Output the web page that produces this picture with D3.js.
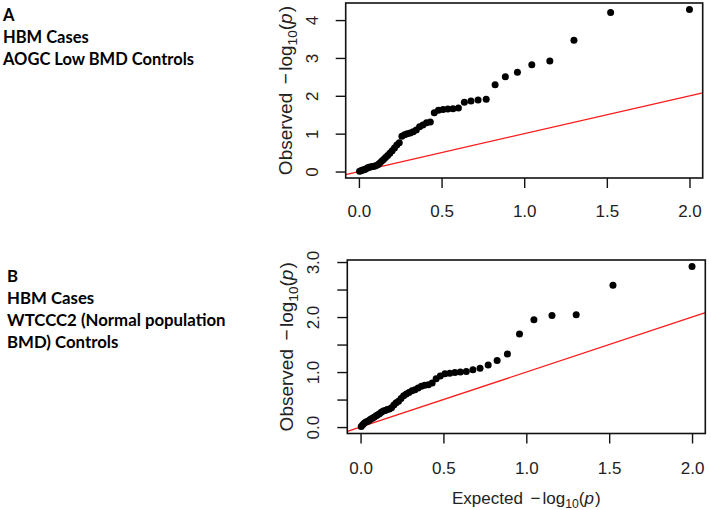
<!DOCTYPE html>
<html>
<head>
<meta charset="utf-8">
<script src="https://cdn.jsdelivr.net/npm/d3@7"></script>
<style>
  html, body { margin: 0; padding: 0; background: #fff; }
  svg { display: block; }
</style>
</head>
<body>
<svg id="chart" width="711" height="510"></svg>
<script>
// Expected -log10(p) (50 SNPs, sorted descending)
const expected = [2.000, 1.523, 1.301, 1.155, 1.046, 0.959, 0.886, 0.824, 0.770, 0.721,
  0.678, 0.638, 0.602, 0.569, 0.538, 0.509, 0.481, 0.456, 0.432, 0.409,
  0.387, 0.367, 0.347, 0.328, 0.310, 0.292, 0.276, 0.260, 0.244, 0.229,
  0.215, 0.201, 0.187, 0.174, 0.161, 0.149, 0.137, 0.125, 0.114, 0.102,
  0.092, 0.081, 0.071, 0.060, 0.051, 0.041, 0.032, 0.022, 0.013, 0.004];

// Panel A observed -log10(p)
const observedA = [4.28, 4.20, 3.47, 2.92, 2.82, 2.62, 2.50, 2.29, 1.91, 1.89,
  1.86, 1.83, 1.68, 1.66, 1.65, 1.64, 1.62, 1.55, 1.31, 1.29,
  1.23, 1.18, 1.10, 1.05, 1.02, 1.00, 0.97, 0.93, 0.76, 0.70,
  0.62, 0.55, 0.48, 0.42, 0.37, 0.32, 0.27, 0.22, 0.18, 0.15,
  0.14, 0.13, 0.12, 0.11, 0.09, 0.07, 0.05, 0.04, 0.02, 0.01];

// Panel B observed -log10(p)
const observedB = [2.92, 2.58, 2.04, 2.03, 1.95, 1.69, 1.33, 1.21, 1.13, 1.07,
  1.04, 1.01, 1.00, 0.99, 0.98, 0.97, 0.93, 0.88, 0.80, 0.77,
  0.76, 0.74, 0.71, 0.68, 0.66, 0.63, 0.60, 0.57, 0.52, 0.47,
  0.44, 0.40, 0.35, 0.33, 0.32, 0.30, 0.29, 0.27, 0.24, 0.22,
  0.20, 0.18, 0.16, 0.14, 0.12, 0.10, 0.09, 0.07, 0.04, 0.01];

const xTicks = [0, 0.5, 1, 1.5, 2];
const xTickLabels = ["0.0", "0.5", "1.0", "1.5", "2.0"];
const yTicksA = [0, 1, 2, 3, 4];
const yTickLabelsA = ["0", "1", "2", "3", "4"];
const yTicksB = [0, 0.5, 1, 1.5, 2, 2.5, 3];
const yTickLabelsB = ["0.0", "", "1.0", "", "2.0", "", "3.0"];

const captionA = ["A", "HBM Cases", "AOGC Low BMD Controls"];
const captionB = ["B", "HBM Cases", "WTCCC2 (Normal population", "BMD) Controls"];

const svg = d3.select("#chart");
const AXF = "'Liberation Sans', Arial, Helvetica, sans-serif";
const CAPF = "Lato, 'Open Sans', sans-serif";

function expressionLabel(textSel, prefix, size) {
  textSel.append("tspan").text(prefix);
  textSel.append("tspan").attr("dx", size * 0.45).text("\u2212");
  textSel.append("tspan").attr("dx", size * 0.12).text("log");
  textSel.append("tspan").attr("font-size", size * 0.72).attr("dy", size * 0.25).text("10");
  textSel.append("tspan").attr("dy", -size * 0.25).text("(");
  textSel.append("tspan").attr("font-style", "italic").text("p");
  textSel.append("tspan").attr("dx", size * 0.06).text(")");
}

function panel(cfg) {
  const g = svg.append("g");
  const x = d3.scaleLinear().domain(cfg.xDomain).range([cfg.left, cfg.right]);
  const y = d3.scaleLinear().domain(cfg.yDomain).range([cfg.bottom, cfg.top]);

  const clipId = "clip" + cfg.id;
  svg.append("clipPath").attr("id", clipId)
    .append("rect").attr("x", cfg.left).attr("y", cfg.top)
    .attr("width", cfg.right - cfg.left).attr("height", cfg.bottom - cfg.top);

  // reference line y = x
  g.append("line")
    .attr("clip-path", `url(#${clipId})`)
    .attr("x1", x(cfg.xDomain[0])).attr("y1", y(cfg.xDomain[0]))
    .attr("x2", x(cfg.xDomain[1])).attr("y2", y(cfg.xDomain[1]))
    .attr("stroke", "#ff1a1a").attr("stroke-width", 1.3);

  // points
  g.append("g").attr("clip-path", `url(#${clipId})`)
    .selectAll("circle").data(expected.map((e, i) => [e, cfg.obs[i]]))
    .join("circle")
    .attr("cx", d => x(d[0])).attr("cy", d => y(d[1]))
    .attr("r", 3.5).attr("fill", "#000");

  // box
  g.append("rect")
    .attr("x", cfg.left).attr("y", cfg.top)
    .attr("width", cfg.right - cfg.left).attr("height", cfg.bottom - cfg.top)
    .attr("fill", "none").attr("stroke", "#111").attr("stroke-width", 1.6);

  // x axis
  const xa = g.append("g").attr("transform", `translate(0,${cfg.bottom})`)
    .call(d3.axisBottom(x).tickValues(xTicks).tickSize(10)
      .tickFormat((d, i) => xTickLabels[i]));
  xa.select(".domain").remove();
  xa.selectAll(".tick line").attr("stroke", "#111").attr("stroke-width", 1.4);
  xa.selectAll(".tick text").attr("y", cfg.xLabelOffset).attr("dy", 0)
    .attr("font-family", AXF).attr("font-size", 17).attr("fill", "#222");

  // y axis
  const ya = g.append("g").attr("transform", `translate(${cfg.left},0)`)
    .call(d3.axisLeft(y).tickValues(cfg.yTicks).tickSize(10)
      .tickFormat((d, i) => cfg.yLabels[i]));
  ya.select(".domain").remove();
  ya.selectAll(".tick line").attr("stroke", "#111").attr("stroke-width", 1.4);
  ya.selectAll(".tick text")
    .attr("x", 0).attr("y", 0).attr("dy", 0)
    .attr("transform", `translate(${cfg.yLabelX - cfg.left},0) rotate(-90)`)
    .attr("text-anchor", "middle")
    .attr("font-family", AXF).attr("font-size", 17).attr("fill", "#222");

  // y title
  const ys = 19;
  const yt = g.append("text")
    .attr("transform", `translate(${cfg.yTitleX},${(cfg.top + cfg.bottom) / 2}) rotate(-90)`)
    .attr("text-anchor", "middle")
    .attr("font-family", AXF).attr("font-size", ys).attr("fill", "#222");
  expressionLabel(yt, "Observed", ys);

  if (cfg.xTitle) {
    const xs = 17;
    const xt = g.append("text")
      .attr("x", (cfg.left + cfg.right) / 2).attr("y", cfg.xTitleY)
      .attr("text-anchor", "middle")
      .attr("font-family", AXF).attr("font-size", xs).attr("fill", "#222");
    expressionLabel(xt, "Expected", xs);
  }

  // caption
  const cap = svg.append("text")
    .attr("font-family", CAPF).attr("font-weight", 700).attr("font-size", cfg.capSize)
    .attr("fill", "#000");
  cfg.caption.forEach((t, i) => {
    cap.append("tspan").attr("x", cfg.capX).attr("y", cfg.capY + i * 22).text(t);
  });
}

panel({
  id: "A", obs: observedA,
  xDomain: [-0.08, 2.08], yDomain: [-0.171, 4.451],
  left: 345.7, right: 702.7, top: 3, bottom: 178,
  yTicks: yTicksA, yLabels: yTickLabelsA,
  xLabelOffset: 38.5, yLabelX: 318, yTitleX: 292,
  xTitle: false,
  caption: captionA, capX: 3, capY: 20.7, capSize: 16.5
});

panel({
  id: "B", obs: observedB,
  xDomain: [-0.08, 2.08], yDomain: [-0.117, 3.037],
  left: 347.3, right: 705.3, top: 260, bottom: 433.5,
  yTicks: yTicksB, yLabels: yTickLabelsB,
  xLabelOffset: 40, yLabelX: 319, yTitleX: 293,
  xTitle: true, xTitleY: 504,
  caption: captionB, capX: 7, capY: 282.3, capSize: 16.8
});
</script>
</body>
</html>
